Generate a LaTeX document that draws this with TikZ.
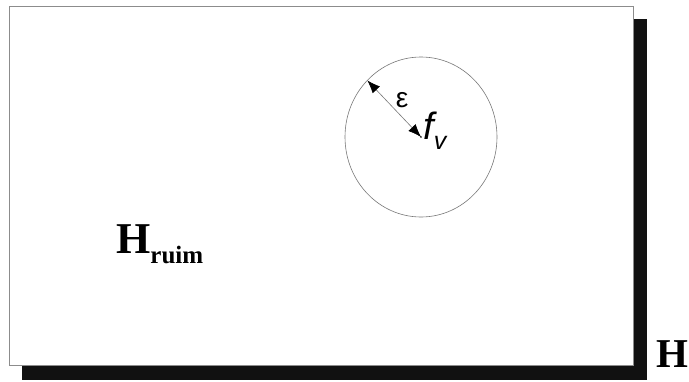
\documentclass[tikz,border=0pt]{standalone}
\usepackage{fontspec}
\setmainfont{Liberation Serif}
\newfontfamily\arialfont{Liberation Sans}
\usepackage{tikz}
\usetikzlibrary{arrows.meta, calc}
\definecolor{shadowbk}{RGB}{17, 17, 17}
\definecolor{framegray}{RGB}{140, 140, 140}
\definecolor{ringgray}{RGB}{120, 120, 120}
\tikzset{
  x=1pt, y=-1pt,
  spacebox/.style={draw=framegray, fill=white, line width=1pt},
  shadowbox/.style={fill=shadowbk, draw=none},
  ballring/.style={draw=ringgray, line width=0.6pt},
  radiusline/.style={
    draw=ringgray, line width=0.6pt,
    {Latex[length=13pt, width=10pt, color=black]}-{Latex[length=13pt, width=10pt, color=black]}
  },
  biglabel/.style={inner sep=0pt, font=\fontsize{44}{44}\selectfont\bfseries},
  smalllabel/.style={inner sep=0pt, font=\arialfont}
}

\begin{document}
\begin{tikzpicture}

  \useasboundingbox (0,0) rectangle (689,381);

  % Shadow and space H
  \path[shadowbox] (22,19) rectangle (647,380);
  \path[spacebox] (9,6) rectangle (633,365);

  % Ball of radius epsilon round f_v
  \coordinate (centre) at (421,137);
  \draw[ballring] (centre) ellipse [x radius=76, y radius=80];
  \coordinate (rim) at ($(centre)+(-53.7,-56.6)$);
  \draw[radiusline] (rim) -- (centre);
  \fill (centre) circle (0.9pt);

  \node[smalllabel, anchor=base, font=\arialfont\fontsize{28}{28}\selectfont] (eps) at (402,107) {ε};
  \node[smalllabel, anchor=base west, font=\arialfont\fontsize{38}{38}\selectfont\itshape] (fv) at (423,139)
    {f\raisebox{-10pt}{\fontsize{25}{25}\selectfont v}};

  % Labels
  \node[biglabel, anchor=base west] (hruim) at (116,253)
    {H\raisebox{-10pt}{\fontsize{25}{25}\selectfont ruim}};
  \node[biglabel, anchor=base west, font=\fontsize{41}{41}\selectfont\bfseries] (hspace) at (656,367) {H};

\end{tikzpicture}
\end{document}
